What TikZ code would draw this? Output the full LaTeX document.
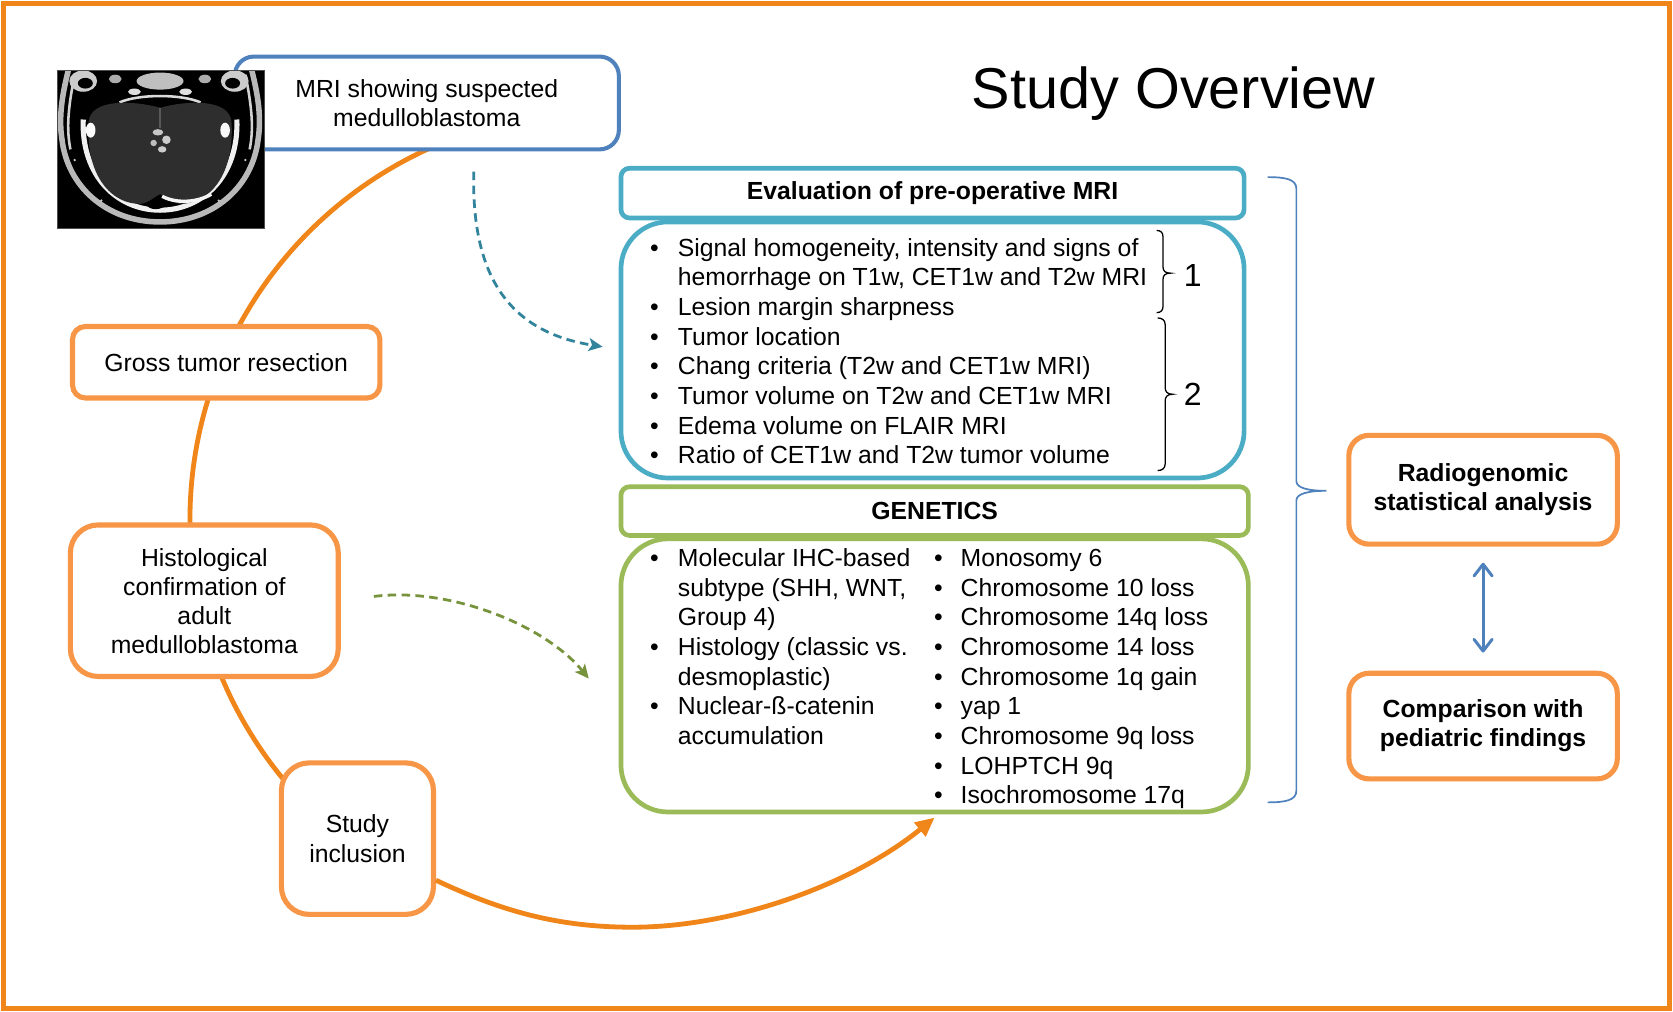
\documentclass[tikz,border=0pt]{standalone}
\usepackage{fontspec}
\setmainfont{Liberation Sans}
\usetikzlibrary{arrows.meta,calc}
\definecolor{orD}{RGB}{240,133,25}
\definecolor{orL}{RGB}{247,150,70}
\definecolor{bluB}{RGB}{79,129,189}
\definecolor{tealB}{RGB}{75,172,198}
\definecolor{grnB}{RGB}{155,187,89}
\definecolor{tealA}{RGB}{49,132,155}
\definecolor{grnA}{RGB}{119,147,60}
\newcommand\bul{\makebox[13pt][l]{•}}
\newcommand\bulr{\makebox[12.5pt][l]{•}}
\newcommand\ind{\hspace*{13pt}}
\begin{document}
\begin{tikzpicture}[x=0.5pt,y=-0.5pt,
  every node/.style={font=\fontsize{11.6pt}{13.6pt}\selectfont, inner sep=0pt},
  box/.style={draw, fill=white, rounded corners=#1, align=center},
  obox/.style={box=#1, draw=orL, line width=2.4pt},
  listtext/.style={anchor=base west, align=left, font=\fontsize{11.6pt}{13.9pt}\selectfont},
  bracepath/.style={line width=0.6pt},
  dasharrow/.style={line width=1.3pt, dash pattern=on 4pt off 2.5pt, -{Stealth[length=6.5pt,width=6pt,inset=1.5pt]}}
]
\useasboundingbox (0,0) rectangle (1568,948);
\fill[white] (0,0) rectangle (1568,948);
\draw[orD, line width=2.4pt] (3,3) rectangle (1565,945);

% big orange cycle arc (behind the boxes)
\draw[orD, line width=2.25pt] plot[domain=245.8:114.4, samples=120] ({560+382*cos(\x)},{487+382*sin(\x)});

% MRI box
\node[box=9pt, draw=bluB, line width=1.9pt, minimum width=180pt, minimum height=43.5pt] (mri) at (400,96.5) {MRI showing suspected\\medulloblastoma};

% MRI picture (approximation of the scan)
\begin{scope}
\fill[black] (54,66) rectangle (248,214);
\clip (54,66) rectangle (248,214);
% outer scalp
\draw[gray!55, line width=2.6pt] (64,66) .. controls (58,90) and (55,110) .. (58,130) .. controls (63,175) and (100,208) .. (150,208) .. controls (200,208) and (237,175) .. (242,130) .. controls (245,110) and (242,90) .. (236,66);
\draw[gray!35, line width=1.2pt] (70,70) .. controls (64,100) and (62,120) .. (66,140);
\draw[gray!35, line width=1.2pt] (230,70) .. controls (236,100) and (238,120) .. (234,140);
% top structures
\fill[gray!40] (78,76) ellipse [x radius=13, y radius=10];
\fill[black] (80,78) ellipse [x radius=7, y radius=5];
\fill[gray!40] (220,76) ellipse [x radius=13, y radius=10];
\fill[black] (218,78) ellipse [x radius=7, y radius=5];
\fill[gray!50] (150,76) ellipse [x radius=22, y radius=8];
\fill[gray!25] (126,86) ellipse [x radius=6, y radius=3];
\fill[gray!25] (174,86) ellipse [x radius=6, y radius=3];
\fill[gray!65] (108,74) ellipse [x radius=6, y radius=4];
\fill[gray!65] (192,74) ellipse [x radius=6, y radius=4];
\draw[gray!30, line width=1.2pt] (112,96) .. controls (130,88) and (170,88) .. (188,96);
% inner bright ring
\draw[gray!12, line width=2.4pt] (78,112) .. controls (76,165) and (110,197) .. (150,197) .. controls (190,197) and (224,165) .. (222,112);
% cerebellum
\fill[black!82] (83,115) .. controls (84,92) and (125,94) .. (150,101) .. controls (175,94) and (216,92) .. (217,115) .. controls (220,165) and (195,192) .. (168,191) .. controls (160,190) and (155,184) .. (150,182) .. controls (145,184) and (140,190) .. (132,191) .. controls (105,192) and (80,165) .. (83,115) -- cycle;
\draw[black!65, line width=0.6pt] (150,101) -- (150,120);
% tumour speckles
\fill[gray!45] (148,124) ellipse [x radius=5, y radius=3];
\fill[gray!40] (156,131) ellipse [x radius=4, y radius=4];
\fill[gray!50] (144,134) ellipse [x radius=3, y radius=3];
\fill[gray!40] (152,140) ellipse [x radius=4, y radius=3];
% bright spots and bottom structures
\fill[gray!5] (85,122) ellipse [x radius=4.5, y radius=7];
\fill[gray!5] (211,122) ellipse [x radius=4.5, y radius=7];
\draw[gray!8, line width=1.6pt] (152,184) .. controls (165,191) and (185,190) .. (198,182);
\fill[black] (146,192) ellipse [x radius=8, y radius=4];
\fill[gray!40] (70,150) circle [radius=1.2];
\fill[gray!40] (230,150) circle [radius=1.2];
\fill[gray!40] (95,188) circle [radius=1.2];
\fill[gray!40] (205,188) circle [radius=1.2];
\end{scope}
\draw[black!70, line width=0.6pt] (54,66) rectangle (248,214);

% title
\node[font=\fontsize{27pt}{32pt}\selectfont] (title) at (1100,88) {Study Overview};

% MRI evaluation block
\node[box=4pt, draw=tealB, line width=2.2pt, minimum width=292pt, minimum height=23.3pt, font=\fontsize{11.6pt}{13.6pt}\selectfont\bfseries] (tealh) at (874,181) {Evaluation of pre-operative MRI};
\node[box=22pt, draw=tealB, line width=2.2pt, minimum width=292pt, minimum height=120pt] (tealc) at (874,328) {};
\node[listtext] (tlist) at (609,240) {\begin{tabular}[t]{@{}l@{}}
\bul Signal homogeneity, intensity and signs of\\
\ind hemorrhage on T1w, CET1w and T2w MRI\\
\bul Lesion margin sharpness\\
\bul Tumor location\\
\bul Chang criteria (T2w and CET1w MRI)\\
\bul Tumor volume on T2w and CET1w MRI\\
\bul Edema volume on FLAIR MRI\\
\bul Ratio of CET1w and T2w tumor volume
\end{tabular}};

% small braces
\draw[bracepath] (1084,216) .. controls (1088,216) and (1090,218) .. (1090,222) -- (1090,250) .. controls (1090,254) and (1092,256) .. (1097,256) .. controls (1092,256) and (1090,258) .. (1090,262) -- (1090,287) .. controls (1090,291) and (1088,293) .. (1084,293);
\draw[bracepath] (1085,298) .. controls (1089,298) and (1092,300) .. (1092,304) -- (1092,363) .. controls (1092,367) and (1094,369.5) .. (1099,369.5) .. controls (1094,369.5) and (1092,372) .. (1092,376) -- (1092,435) .. controls (1092,439) and (1089,441) .. (1085,441);
\node[font=\fontsize{15pt}{18pt}\selectfont] (lab1) at (1118,258) {1};
\node[font=\fontsize{15pt}{18pt}\selectfont] (lab2) at (1118,370) {2};

% genetics block
\node[box=4pt, draw=grnB, line width=2.2pt, minimum width=294pt, minimum height=22.8pt, font=\fontsize{11.6pt}{13.6pt}\selectfont\bfseries] (grnh) at (876,479) {GENETICS};
\node[box=22pt, draw=grnB, line width=2.2pt, minimum width=294pt, minimum height=128pt] (grnc) at (876,633) {};
\node[listtext] (glistL) at (609,531) {\begin{tabular}[t]{@{}l@{}}
\bul Molecular IHC-based\\
\ind subtype (SHH, WNT,\\
\ind Group 4)\\
\bul Histology (classic vs.\\
\ind desmoplastic)\\
\bul Nuclear-ß-catenin\\
\ind accumulation
\end{tabular}};
\node[listtext] (glistR) at (875,531) {\begin{tabular}[t]{@{}l@{}}
\bulr Monosomy 6\\
\bulr Chromosome 10 loss\\
\bulr Chromosome 14q loss\\
\bulr Chromosome 14 loss\\
\bulr Chromosome 1q gain\\
\bulr yap 1\\
\bulr Chromosome 9q loss\\
\bulr LOHPTCH 9q\\
\bulr Isochromosome 17q
\end{tabular}};

% big blue brace
\draw[bluB, line width=0.8pt] (1188,166) .. controls (1205,166) and (1215,168) .. (1215,177) -- (1215,451) .. controls (1215,457) and (1225,460) .. (1243,460) .. controls (1225,460) and (1215,463) .. (1215,469) -- (1215,741) .. controls (1215,750) and (1205,752) .. (1188,752);

% right boxes
\node[obox=9.5pt, minimum width=125.8pt, minimum height=51pt, font=\fontsize{11.6pt}{13.6pt}\selectfont\bfseries] (rad) at (1390,459) {Radiogenomic\\statistical analysis};
\node[obox=9.5pt, minimum width=125.8pt, minimum height=49.5pt, font=\fontsize{11.6pt}{13.6pt}\selectfont\bfseries] (cmp) at (1390,680.5) {Comparison with\\pediatric findings};
\draw[bluB, line width=1.4pt, shorten <=7.5pt, shorten >=8.5pt, {Straight Barb[length=5.5pt,width=8.5pt,round]}-{Straight Barb[length=5.5pt,width=8.5pt,round]}] (rad) -- (cmp);

% left orange boxes
\node[obox=6pt, minimum width=144pt, minimum height=33.5pt] (gross) at (212,339.5) {Gross tumor resection};
\node[obox=13pt, minimum width=125.5pt, minimum height=71pt] (histo) at (191.5,563) {Histological\\confirmation of\\adult\\medulloblastoma};
\node[obox=13pt, minimum width=71.25pt, minimum height=71pt] (study) at (335,786) {Study\\inclusion};

% dashed arrows
\draw[tealA, dasharrow] ([xshift=22pt,yshift=-9.5pt]mri.south) .. controls (442,250) and (470,310) .. ([xshift=-7.5pt,yshift=1.5pt]tealc.west);
\draw[grnA, dasharrow] ([xshift=15.5pt,yshift=2pt]histo.east) .. controls (420,550) and (510,585) .. ([xshift=-14pt,yshift=-1.5pt]grnc.west);

% orange arrow from study inclusion to genetics
\coordinate (low) at (593,869);
\draw[orD, line width=2.25pt, -{Triangle[length=9pt,width=8pt]}] ([yshift=-19.5pt]study.east) .. controls (470,854) and (523,869) .. (low) .. controls (688,869) and (799,829) .. ([yshift=-1.5pt]grnc.south);
\end{tikzpicture}
\end{document}
